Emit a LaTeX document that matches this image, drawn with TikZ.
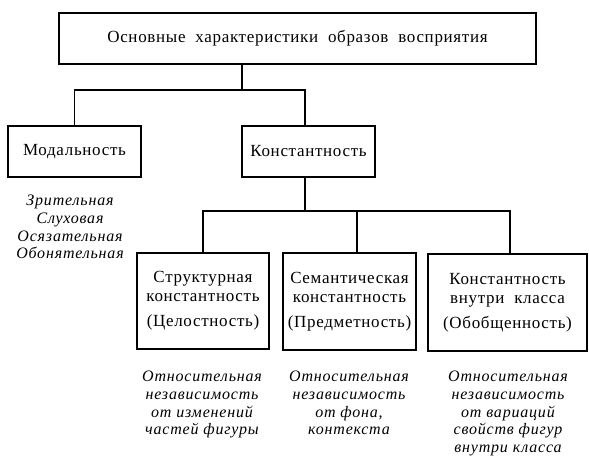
\documentclass[tikz,border=0pt]{standalone}
\usepackage{fontspec}
\setmainfont{Liberation Serif}
\newfontfamily\boxfont[LetterSpace=4]{Liberation Serif}
\newfontfamily\notefont[LetterSpace=5]{Liberation Serif}
\usepackage{tikz}
\usetikzlibrary{positioning}

\begin{document}
\begin{tikzpicture}[x=1pt,y=-1pt,
  box/.style={draw, line width=1.2pt, rectangle, inner sep=0pt, align=center, font=\boxfont\fontsize{17}{19}\selectfont},
  note/.style={anchor=north, inner sep=0pt, align=center, font=\notefont\fontsize{16}{17.7}\selectfont\itshape}]
\useasboundingbox (0,0) rectangle (589,461);
\node[box, minimum width=477pt, minimum height=51pt] (top) at (297.5,38.5) {Основные\ \ характеристики\ \ образов\ \ восприятия};
\node[box, minimum width=133pt, minimum height=51pt] (modal) at (74.5,151.5) {Модальность};
\node[box, minimum width=133pt, minimum height=51pt] (konst) at (308.5,151.5) {Константность};
\node[box, minimum width=132pt, minimum height=96pt] (struct) at (203,301) {Структурная\\константность\\[6pt](Целостность)};
\node[box, minimum width=133pt, minimum height=97pt] (sem) at (349.5,301.5) {Семантическая\\константность\\[6pt](Предметность)};
\node[box, minimum width=159pt, minimum height=97pt] (klass) at (507.5,302.5) {Константность\\внутри\ \ класса\\[6pt](Обобщенность)};
\node[note] (modlist) at (70,195) {Зрительная\\Слуховая\\Осязательная\\Обонятельная};
\node[note] (note1) at (202,371) {Относительная\\независимость\\от изменений\\частей фигуры};
\node[note] (note2) at (349,371) {Относительная\\независимость\\от фона,\\контекста};
\node[note] (note3) at (508,371) {Относительная\\независимость\\от вариаций\\свойств фигур\\внутри класса};
% connectors
\coordinate (t) at (242,90);
\coordinate (k) at (305,211);
\draw[line width=1.2pt] (top.south -| t) -- (t);
\draw[line width=1.2pt] (modal.north) |- (t) -| ([xshift=-3.5pt]konst.north);
\draw[line width=1.2pt] ([xshift=-3.5pt]konst.south) -- (k);
\draw[line width=1.2pt] (struct.north) |- ([xshift=2.5pt]klass.north |- k) -- ([xshift=2.5pt]klass.north);
\draw[line width=1.2pt] ([xshift=7.5pt]sem.north) -- ([xshift=7.5pt]sem.north |- k);
\end{tikzpicture}
\end{document}
